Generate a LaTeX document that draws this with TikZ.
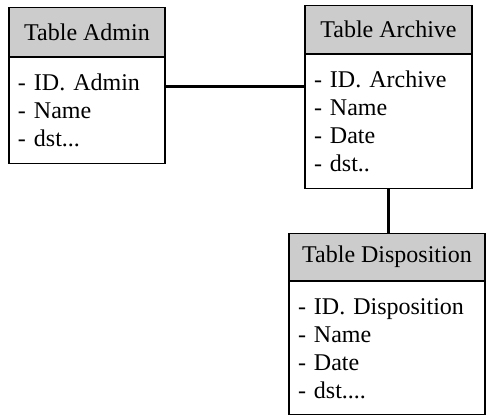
\documentclass[tikz,border=0pt]{standalone}
\usepackage{fontspec}
\setmainfont{Liberation Serif}
\usetikzlibrary{positioning}

\tikzset{
  tabhead/.style={draw, fill=black!20, line width=0.6pt, inner sep=0pt, font=\fontsize{12}{14}\selectfont, anchor=north},
  tabbody/.style={draw, fill=white, line width=0.6pt, align=left, inner xsep=4.5pt, inner ysep=0pt, font=\fontsize{12}{14}\selectfont},
  link/.style={line width=1.4pt}
}

\begin{document}
\begin{tikzpicture}
              \useasboundingbox (0,0) rectangle (243pt,-207.5pt);
              % table admin
              \node[tabhead,minimum width=78pt,minimum height=24.5pt](adminh)at(43.5pt,-3.5pt){Table Admin};
              \node[tabbody,text width=69pt,minimum height=53pt,below=0pt of adminh](admin){- ID. Admin\\- Name\\- dst...};
              % table archive
              \node[tabhead,minimum width=83.5pt,minimum height=24pt](archiveh)at(194.25pt,-2.5pt){Table Archive};
              \node[tabbody,text width=74.5pt,minimum height=67pt,below=0pt of archiveh](archive){- ID. Archive\\- Name\\- Date\\- dst..};
              % table disposition
              \node[tabhead,minimum width=98pt,minimum height=23.5pt](disph)at(193.5pt,-116.5pt){Table Disposition};
              \node[tabbody,text width=89pt,minimum height=66.5pt,below=0pt of disph](disp){- ID. Disposition\\- Name\\- Date\\- dst....};
              % links
              \coordinate (ja) at ([yshift=-14.5pt]admin.north east);
              \draw[link] (ja)--(ja -| archive.west);
              \draw[link] (archive.south)--(archive.south |- disph.north);
            \end{tikzpicture}
\end{document}
